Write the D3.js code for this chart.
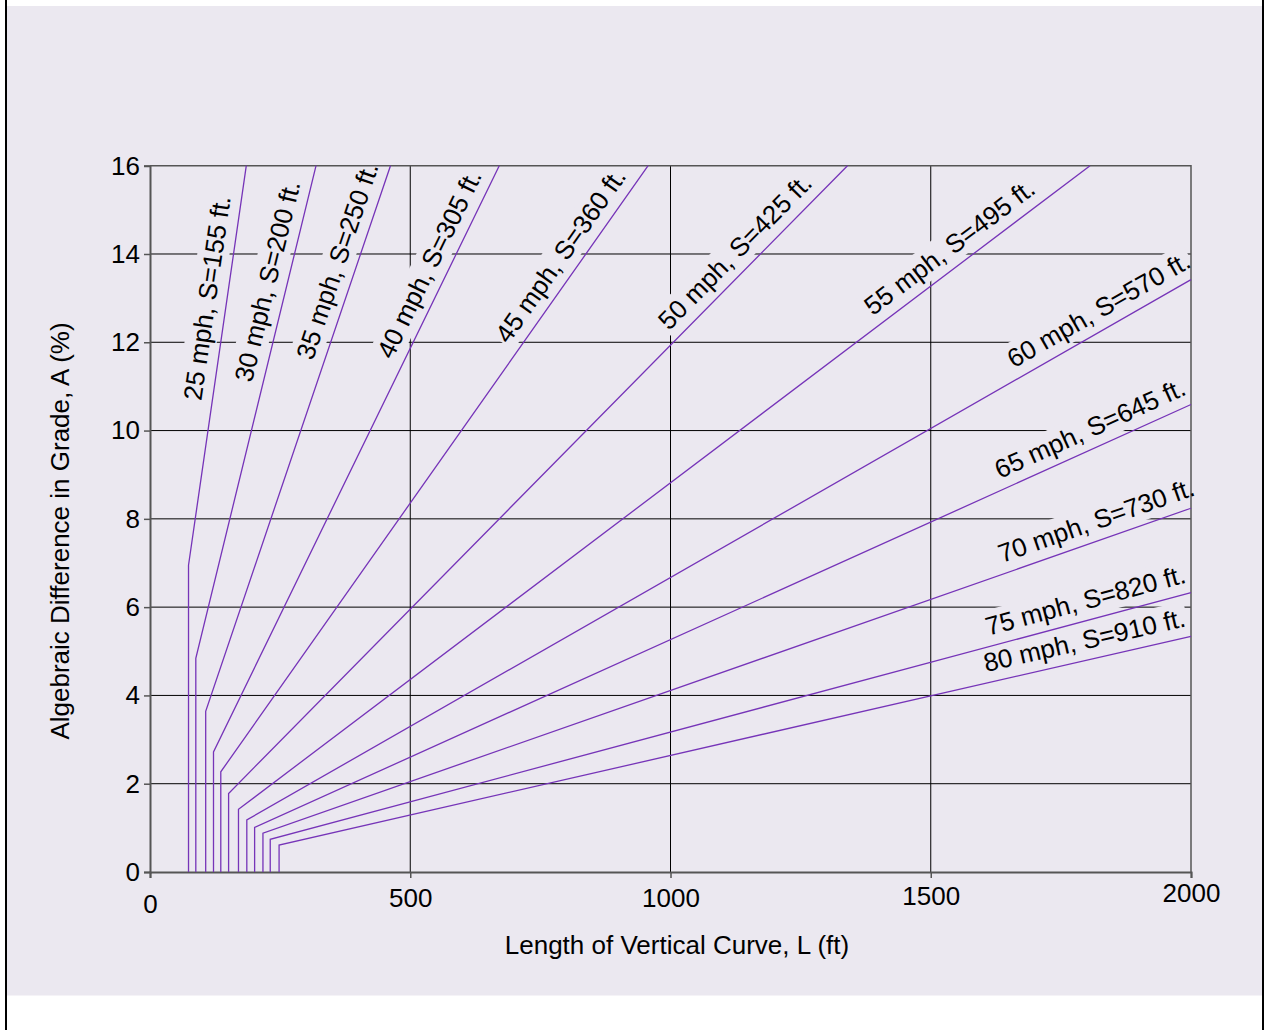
<!DOCTYPE html>
<html>
<head>
<meta charset="utf-8">
<script src="https://cdn.jsdelivr.net/npm/d3@7"></script>
<style>
  body { margin: 0; background: #fff; }
  svg { display: block; font-family: "Liberation Sans", Arial, sans-serif; }
</style>
</head>
<body>
<div id="chart"></div>
<script>
// design speeds and stopping sight distances
const speeds = [25, 30, 35, 40, 45, 50, 55, 60, 65, 70, 75, 80];
const sightDist = [155, 200, 250, 305, 360, 425, 495, 570, 645, 730, 820, 910];

// minimum curve length (vertical part of each line), ft
const minLength = [74, 88, 107, 122, 136, 151, 170, 186, 201, 217, 231, 248];
// A where the vertical part turns into the sloped part
const cornerA = [6.95, 4.84, 3.64, 2.72, 2.27, 1.78, 1.42, 1.18, 1.01, 0.88, 0.74, 0.61];
// where each line leaves the plot
const endL = [185, 319, 462, 671, 957, 1340, 1806, 2000, 2000, 2000, 2000, 2000];
const endA = [16, 16, 16, 16, 16, 16, 16, 13.42, 10.59, 8.24, 6.33, 5.34];

// A along the line where each label sits
const labelA = [12.94, 13.28, 13.7, 13.58, 13.71, 13.74, 13.8, 12.35, 9.64, 7.54, 5.72, 4.81];

const xTicks = [0, 500, 1000, 1500, 2000];
const yTicks = [0, 2, 4, 6, 8, 10, 12, 14, 16];

const width = 1264, height = 1030;
const bg = "#ebe8f0";
const lineColor = "#7634b8";
const font = 26;

const svg = d3.select("#chart").append("svg")
    .attr("width", width)
    .attr("height", height);

svg.append("rect").attr("width", width).attr("height", height).attr("fill", "#fff");
svg.append("rect")
    .attr("x", 7).attr("y", 6)
    .attr("width", 1255).attr("height", 989.5)
    .attr("fill", bg);
[6, 1263].forEach(px => svg.append("line")
    .attr("x1", px).attr("x2", px).attr("y1", 0).attr("y2", height)
    .attr("stroke", "#000").attr("stroke-width", 2));

const x = d3.scaleLinear().domain([0, 2000]).range([150, 1191]);
const y = d3.scaleLinear().domain([0, 16]).range([872, 165.7]);

// gridlines
const grid = svg.append("g").attr("stroke", "#000").attr("stroke-width", 1);
grid.selectAll(".vg")
  .data(xTicks.slice(1, -1))
  .join("line")
    .attr("x1", d => x(d)).attr("x2", d => x(d))
    .attr("y1", y(0)).attr("y2", y(16));
grid.selectAll(".hg")
  .data(yTicks.slice(1, -1))
  .join("line")
    .attr("x1", x(0)).attr("x2", x(2000))
    .attr("y1", d => y(d)).attr("y2", d => y(d));

const rectLayer = svg.append("g");
const frameLayer = svg.append("g");
const lineLayer = svg.append("g");
const textLayer = svg.append("g");

// frame: top and right
frameLayer.append("path")
    .attr("d", `M${x(0)},${y(16)}H${x(2000)}V${y(0)}`)
    .attr("fill", "none")
    .attr("stroke", "#555")
    .attr("stroke-width", 1.5);

// axes
const xNudge = {0: 6, 1500: -2, 2000: -5};
const xAxis = frameLayer.append("g")
    .attr("transform", `translate(0,${y(0)})`)
    .call(d3.axisBottom(x).tickValues(xTicks).tickFormat(d3.format("d"))
      .tickSizeOuter(0).tickSize(6).tickPadding(11));
xAxis.selectAll("text")
    .attr("transform", d => `translate(0,${xNudge[d] || 0})`);

const yAxis = frameLayer.append("g")
    .attr("transform", `translate(${x(0)},0)`)
    .call(d3.axisLeft(y).tickValues(yTicks).tickSizeOuter(0).tickSize(6).tickPadding(4));

[xAxis, yAxis].forEach(a => {
  a.select(".domain").attr("stroke", "#555").attr("stroke-width", 2);
  a.selectAll(".tick line").attr("stroke", "#555").attr("stroke-width", 1.5);
  a.selectAll("text")
      .attr("fill", "#000")
      .style("font-size", font + "px")
      .style("font-family", '"Liberation Sans", Arial, sans-serif');
});

// axis titles
svg.append("text")
    .attr("x", 677).attr("y", 945).attr("dy", "0.35em")
    .attr("text-anchor", "middle")
    .style("font-size", font + "px")
    .text("Length of Vertical Curve, L (ft)");
svg.append("text")
    .attr("transform", "translate(60,531) rotate(-90)")
    .attr("dy", "0.35em")
    .attr("text-anchor", "middle")
    .style("font-size", font + "px")
    .text("Algebraic Difference in Grade, A (%)");

// series
const series = speeds.map((v, i) => ({
  speed: v,
  s: sightDist[i],
  pts: [[minLength[i], 0], [minLength[i], cornerA[i]], [endL[i], endA[i]]],
  labelA: labelA[i]
}));

const line = d3.line().x(d => x(d[0])).y(d => y(d[1]));

lineLayer.selectAll("path")
  .data(series)
  .join("path")
    .attr("d", d => line(d.pts))
    .attr("fill", "none")
    .attr("stroke", lineColor)
    .attr("stroke-width", 1.3);

// labels along each line
series.forEach(d => {
  const [c, e] = [d.pts[1], d.pts[2]];
  const t = (d.labelA - c[1]) / (e[1] - c[1]);
  const L = c[0] + t * (e[0] - c[0]);
  const px = x(L), py = y(d.labelA);
  const ang = Math.atan2(y(e[1]) - y(c[1]), x(e[0]) - x(c[0])) * 180 / Math.PI;
  const tr = `translate(${px},${py}) rotate(${ang})`;

  const txt = textLayer.append("text")
      .attr("transform", tr)
      .attr("y", -20)
      .attr("dy", "0.35em")
      .attr("text-anchor", "middle")
      .style("font-size", font + "px")
      .text(`${d.speed} mph, S=${d.s} ft.`);

  const b = txt.node().getBBox();
  rectLayer.append("rect")
      .attr("transform", tr)
      .attr("x", b.x - 2).attr("y", b.y - 1)
      .attr("width", b.width + 4).attr("height", b.height + 2)
      .attr("fill", bg);
});
</script>
</body>
</html>
